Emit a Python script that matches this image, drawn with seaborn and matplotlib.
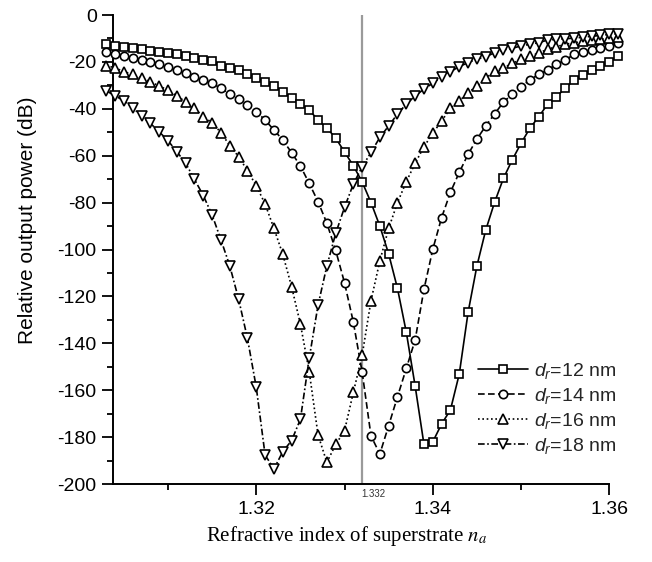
import matplotlib
matplotlib.use("Agg")
import matplotlib.pyplot as plt
from matplotlib.ticker import MultipleLocator, FixedLocator
import numpy as np
import pandas as pd
import seaborn as sns

# refractive index of superstrate (x grid)
n_a = [1.303, 1.304, 1.305, 1.306, 1.307, 1.308, 1.309, 1.310, 1.311, 1.312,
       1.313, 1.314, 1.315, 1.316, 1.317, 1.318, 1.319, 1.320, 1.321, 1.322,
       1.323, 1.324, 1.325, 1.326, 1.327, 1.328, 1.329, 1.330, 1.331, 1.332,
       1.333, 1.334, 1.335, 1.336, 1.337, 1.338, 1.339, 1.340, 1.341, 1.342,
       1.343, 1.344, 1.345, 1.346, 1.347, 1.348, 1.349, 1.350, 1.351, 1.352,
       1.353, 1.354, 1.355, 1.356, 1.357, 1.358, 1.359, 1.360, 1.361]

# relative output power (dB)
p_12 = [-12.4, -13.2, -13.5, -14.2, -14.4, -15.2, -15.9, -16.0, -16.8, -17.5,
        -18.5, -19.2, -19.8, -21.7, -22.7, -23.5, -25.2, -27.0, -28.6, -30.3,
        -32.8, -35.4, -38.1, -40.5, -44.8, -48.2, -52.5, -58.4, -64.3, -71.2,
        -80.0, -90.0, -101.9, -116.6, -135.3, -158.2, -183.1, -182.0, -174.4, -168.4,
        -153.1, -126.8, -107.0, -91.7, -79.9, -69.7, -61.8, -54.7, -48.3, -43.4,
        -38.1, -34.8, -31.3, -27.7, -25.5, -23.5, -21.8, -20.2, -17.6]

p_14 = [-15.9, -16.8, -17.5, -18.2, -19.2, -20.0, -20.9, -22.0, -23.5, -24.9,
        -26.3, -27.7, -29.1, -31.3, -33.7, -36.0, -38.5, -41.2, -44.8, -49.0,
        -53.3, -58.7, -64.4, -71.8, -79.6, -88.8, -100.4, -114.2, -131.0, -152.4,
        -179.5, -187.2, -175.1, -162.8, -150.7, -138.6, -117.0, -99.9, -86.4, -75.6,
        -67.1, -59.4, -52.9, -47.3, -42.2, -37.2, -33.7, -30.6, -27.7, -25.3,
        -23.5, -21.0, -19.2, -16.8, -15.8, -14.9, -14.0, -13.1, -12.1]

p_16 = [-21.6, -22.5, -24.2, -25.3, -27.0, -28.4, -30.3, -32.0, -34.5, -37.0,
        -39.8, -43.4, -45.9, -50.2, -55.7, -60.4, -66.4, -72.8, -80.6, -91.0,
        -102.0, -115.8, -131.8, -152.1, -179.1, -190.8, -183.1, -177.3, -160.9, -145.0,
        -121.8, -104.9, -91.0, -80.0, -71.1, -63.2, -56.2, -50.4, -45.2, -39.8,
        -36.7, -33.1, -30.3, -27.0, -23.9, -22.7, -20.6, -18.9, -17.5, -16.3,
        -14.6, -13.5, -12.5, -11.8, -11.3, -10.8, -10.3, -9.9, -9.5]

p_18 = [-32.3, -34.5, -36.5, -39.5, -43.1, -46.2, -49.8, -53.6, -58.3, -63.2,
        -70.1, -77.0, -85.3, -95.9, -107.0, -121.2, -137.9, -158.8, -187.6, -193.6,
        -186.2, -181.5, -172.4, -146.4, -123.7, -107.0, -93.1, -82.0, -72.1, -64.7,
        -58.6, -52.2, -47.3, -42.2, -38.0, -34.5, -31.6, -29.1, -26.3, -24.2,
        -22.0, -20.3, -18.8, -17.8, -16.1, -14.9, -14.2, -13.2, -12.5, -11.8,
        -10.7, -10.4, -10.1, -9.9, -9.5, -9.1, -8.7, -8.3, -8.0]

series_labels = ["$d_r$=12 nm", "$d_r$=14 nm", "$d_r$=16 nm", "$d_r$=18 nm"]
x_ticks = [1.32, 1.34, 1.36]
x_minor = [1.31, 1.33, 1.35]
n_ref = 1.332
n_ref_label = "1.332"

sns.set_theme(style="ticks")
plt.rcParams['font.family'] = ['Liberation Sans', 'DejaVu Sans']
plt.rcParams['axes.unicode_minus'] = False
plt.rcParams['mathtext.fontset'] = 'custom'
plt.rcParams['mathtext.rm'] = 'Liberation Sans'
plt.rcParams['mathtext.it'] = 'Liberation Sans:italic'

fig = plt.figure(figsize=(6.52, 5.62), dpi=100)
ax = fig.add_axes([113.3 / 652, 1 - 484 / 562, 496 / 652, 469 / 562])

styles = [
    dict(marker='s', ms=5.5, dashes=None),
    dict(marker='o', ms=6.0, dashes=(4, 2)),
    dict(marker='^', ms=6.5, dashes=(1, 1.6)),
    dict(marker='v', ms=6.5, dashes=(4, 1.5, 1, 1.5)),
]

handles = []
for vals, st in zip([p_12, p_14, p_16, p_18], styles):
    df = pd.DataFrame({"n": n_a, "p": vals})
    n_before = len(ax.lines)
    sns.lineplot(data=df, x="n", y="p", ax=ax, color='black', errorbar=None,
                 marker=st['marker'], markersize=st['ms'], markerfacecolor='white',
                 markeredgecolor='black', markeredgewidth=1.2, linewidth=1.2,
                 clip_on=False, legend=False, zorder=3)
    line = ax.lines[n_before]
    if st['dashes'] is not None:
        line.set_dashes(st['dashes'])
    handles.append(line)

ax.axvline(n_ref, color='#9a9a9a', lw=1.6, zorder=1.5)
ax.text(n_ref + 0.0013, -0.021, n_ref_label, transform=ax.get_xaxis_transform(),
        ha='center', va='center', fontsize=7, color='#333333', clip_on=False)

ax.set_xlim(1.3038, 1.36)
ax.set_ylim(-200, 0)
ax.xaxis.set_major_locator(FixedLocator(x_ticks))
ax.xaxis.set_minor_locator(FixedLocator(x_minor))
ax.set_xticklabels([f"{t:.2f}" for t in x_ticks])
ax.yaxis.set_major_locator(MultipleLocator(20))
ax.yaxis.set_minor_locator(MultipleLocator(10))

ax.tick_params(which='major', direction='out', length=8, width=1.3,
               labelsize=14, pad=4, color='black', labelcolor='black')
ax.tick_params(which='minor', direction='out', length=4.5, width=1.3, color='black')

for s in ['top', 'right']:
    ax.spines[s].set_visible(False)
for s in ['left', 'bottom']:
    ax.spines[s].set_linewidth(1.4)
    ax.spines[s].set_color('black')

ax.set_ylabel("Relative output power (dB)", fontsize=15, color='black')
ax.yaxis.set_label_coords(-0.154, 0.562)
ax.set_xlabel("Refractive index of superstrate $n_a$", fontsize=15,
              family=['Liberation Serif', 'DejaVu Serif'], math_fontfamily='stix',
              color='black')
ax.xaxis.set_label_coords(0.47, -0.085)

ax.legend(handles, series_labels, loc='upper left', bbox_to_anchor=(0.735, 0.262),
          frameon=False, fontsize=14, handlelength=2.6, handletextpad=0.3,
          labelspacing=0.25, borderpad=0, borderaxespad=0, numpoints=1)

fig.savefig("out.png", dpi=100)
